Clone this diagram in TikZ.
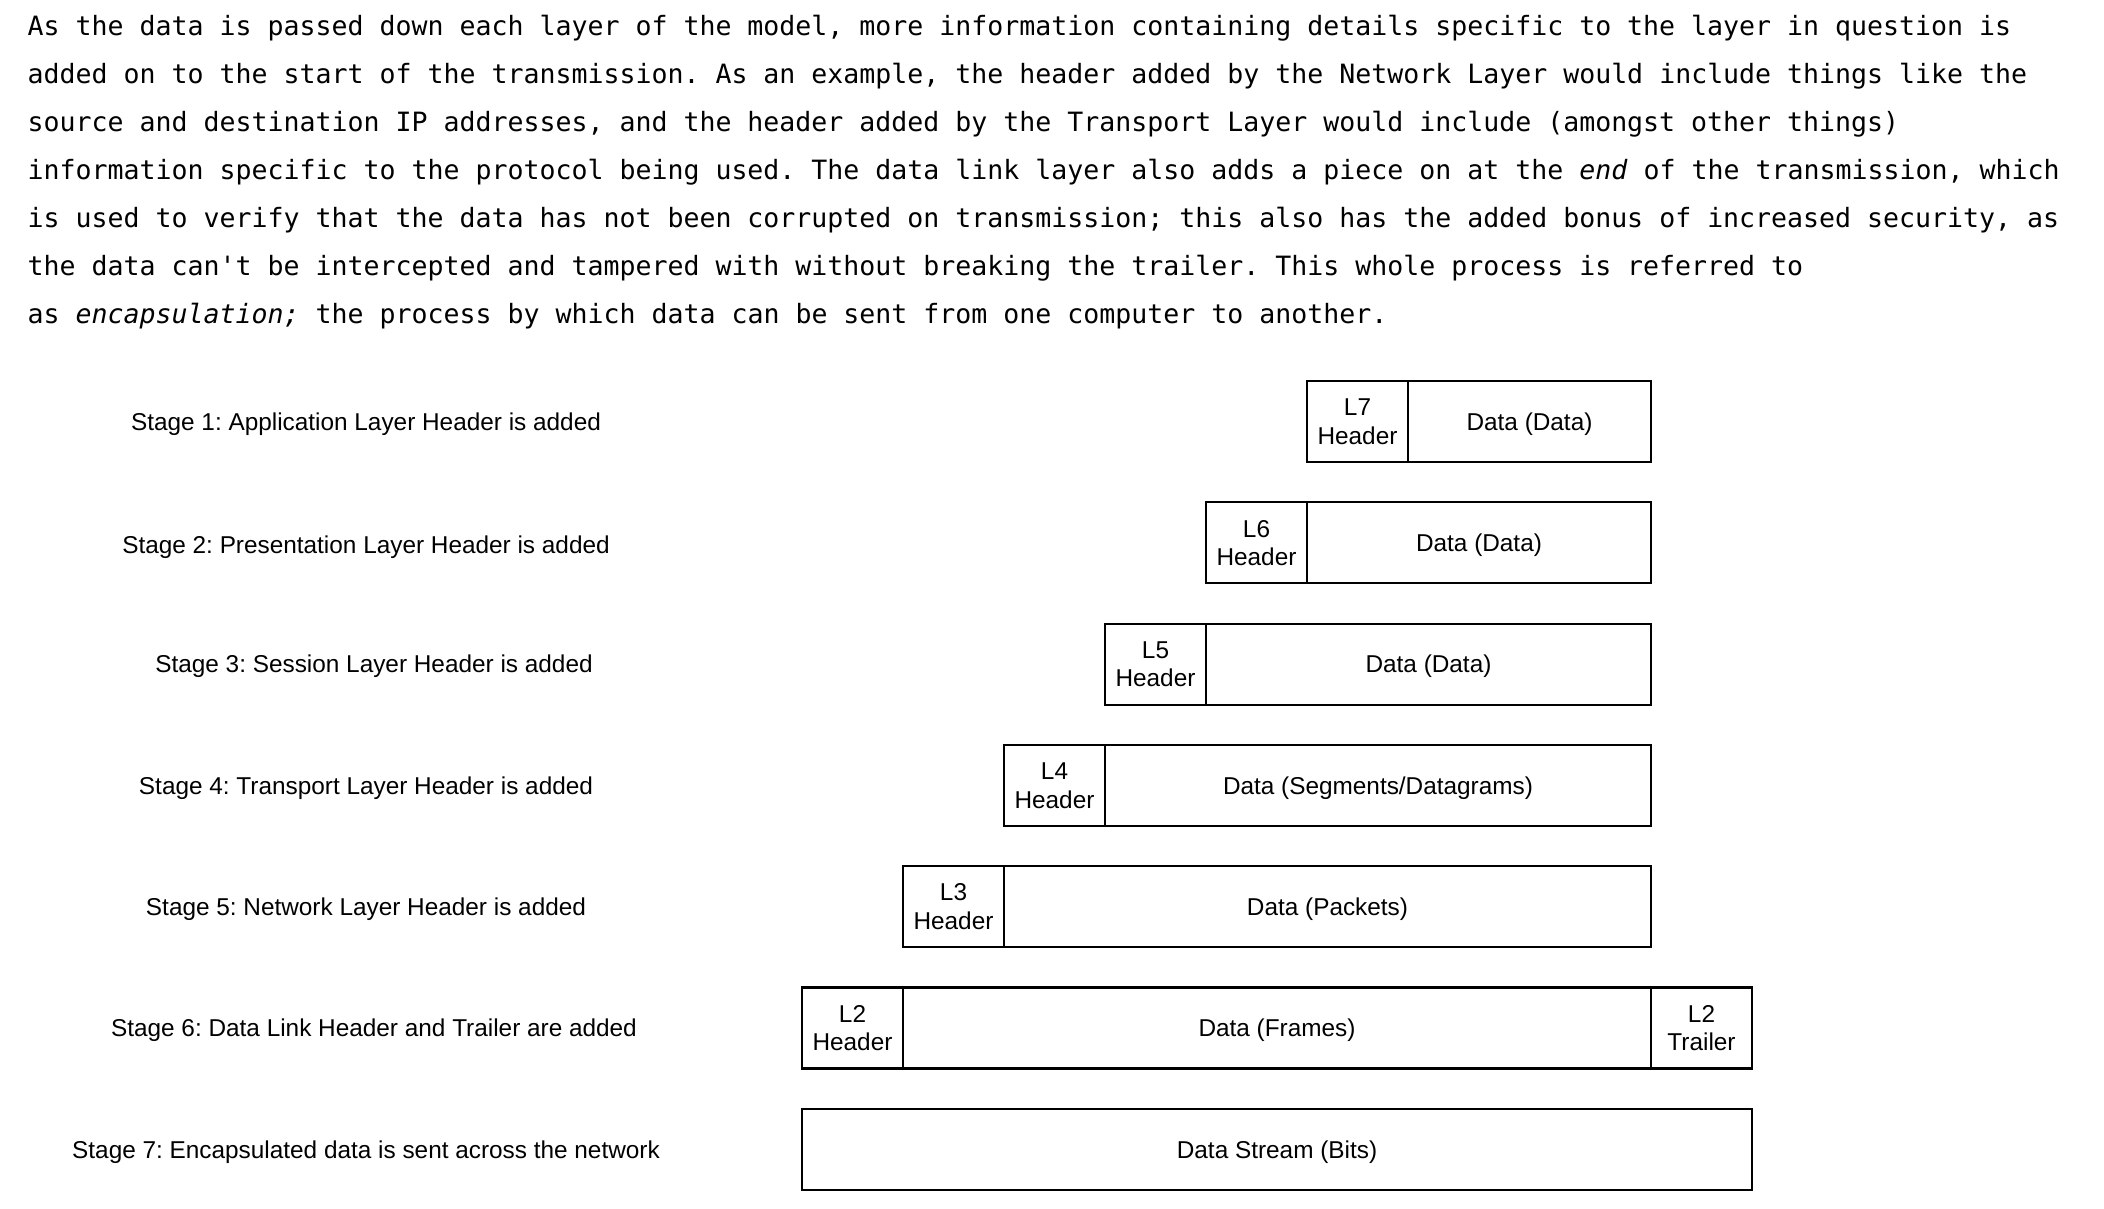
\documentclass[tikz,border=0pt]{standalone}
\usepackage{fontspec}
\setmainfont{Liberation Sans}
\newfontfamily\codefont{DejaVu Sans Mono}
\usetikzlibrary{positioning}
\frenchspacing

\begin{document}
\begin{tikzpicture}[
  para/.style={anchor=base west, inner sep=0pt, font=\codefont\fontsize{7.56}{9}\selectfont},
  stage/.style={inner sep=0pt, text depth=0pt, font=\fontsize{6.93}{7.4}\selectfont},
  cell/.style={draw, line width=0.6pt, minimum height=0.81cm, inner sep=0pt, outer sep=0pt,
    text depth=0pt, align=center, font=\fontsize{6.93}{8.1}\selectfont},
  hdr/.style={cell, minimum width=1.01cm},
]
  \useasboundingbox (0,0) rectangle (21.04,-12.08);

  % explanation text
  \node[para] (p1) at (0.27, -0.35) {As the data is passed down each layer of the model, more information containing details specific to the layer in question is};
  \node[para] (p2) at (0.27, -0.83) {added on to the start of the transmission. As an example, the header added by the Network Layer would include things like the};
  \node[para] (p3) at (0.27, -1.31) {source and destination IP addresses, and the header added by the Transport Layer would include (amongst other things)};
  \node[para] (p4) at (0.27, -1.79) {information specific to the protocol being used. The data link layer also adds a piece on at the \textit{end} of the transmission, which};
  \node[para] (p5) at (0.27, -2.27) {is used to verify that the data has not been corrupted on transmission; this also has the added bonus of increased security, as};
  \node[para] (p6) at (0.27, -2.75) {the data can\textquotesingle t be intercepted and tampered with without breaking the trailer. This whole process is referred to};
  \node[para] (p7) at (0.27, -3.23) {as \textit{encapsulation;} the process by which data can be sent from one computer to another.};

  % stage labels
  \node[stage] (s1) at (3.66, -4.215) {Stage 1: Application Layer Header is added};
  \node[stage] (s2) at (3.66, -5.45) {Stage 2: Presentation Layer Header is added};
  \node[stage] (s3) at (3.74, -6.641) {Stage 3: Session Layer Header is added};
  \node[stage] (s4) at (3.66, -7.854) {Stage 4: Transport Layer Header is added};
  \node[stage] (s5) at (3.66, -9.067) {Stage 5: Network Layer Header is added};
  \node[stage] (s6) at (3.74, -10.28) {Stage 6: Data Link Header and Trailer are added};
  \node[stage] (s7) at (3.66, -11.493) {Stage 7: Encapsulated data is sent across the network};

  % headers and data
  \node[hdr] (h7) at (13.575, -4.215) {L7\\Header};
  \node[cell, minimum width=2.43cm, right=0pt of h7] (d7) {Data (Data)};

  \node[hdr] (h6) at (12.565, -5.428) {L6\\Header};
  \node[cell, minimum width=3.44cm, right=0pt of h6] (d6) {Data (Data)};

  \node[hdr] (h5) at (11.555, -6.641) {L5\\Header};
  \node[cell, minimum width=4.45cm, right=0pt of h5] (d5) {Data (Data)};

  \node[hdr] (h4) at (10.545, -7.854) {L4\\Header};
  \node[cell, minimum width=5.46cm, right=0pt of h4] (d4) {Data (Segments/Datagrams)};

  \node[hdr] (h3) at (9.535, -9.067) {L3\\Header};
  \node[cell, minimum width=6.47cm, right=0pt of h3] (d3) {Data (Packets)};

  \node[hdr] (h2) at (8.525, -10.28) {L2\\Header};
  \node[cell, minimum width=7.48cm, right=0pt of h2] (d2) {Data (Frames)};
  \node[hdr, right=0pt of d2] (t2) {L2\\Trailer};

  \node[cell, minimum width=9.50cm] (bits) at (12.77, -11.493) {Data Stream (Bits)};
\end{tikzpicture}
\end{document}
